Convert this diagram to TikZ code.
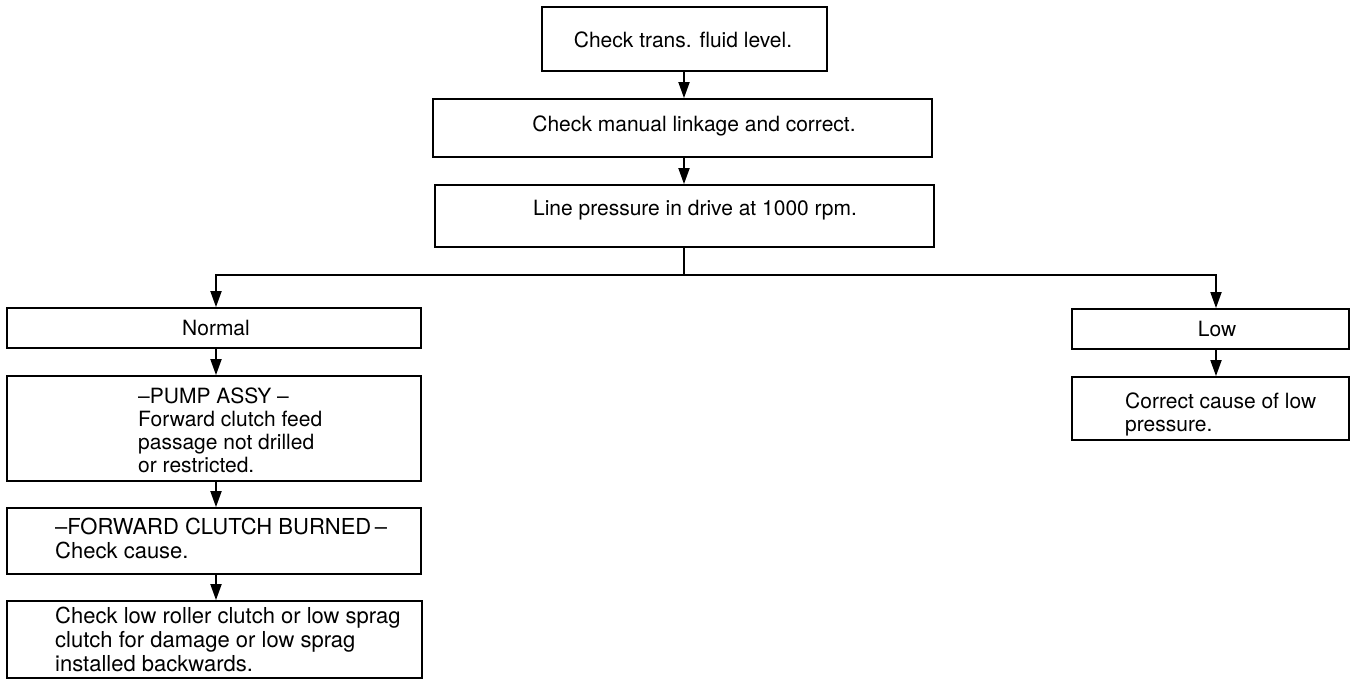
\documentclass[tikz,border=0pt]{standalone}
\usepackage{fontspec}
\setmainfont{TeX Gyre Heros}
\usetikzlibrary{arrows.meta}
\begin{document}
\begin{tikzpicture}[x=1pt,y=-1pt,
  box/.style={draw, line width=1.8pt, inner sep=0pt},
  txt/.style={font=\fontsize{21}{23}\selectfont, inner sep=0pt, align=left},
  bigtxt/.style={txt, font=\fontsize{22}{24}\selectfont},
  flow/.style={line width=1.8pt, -{Triangle[length=16pt,width=11pt]}},
  wire/.style={line width=1.8pt}]
\useasboundingbox (0,0) rectangle (1353,679);

% main column
\node[box, minimum width=285pt, minimum height=64pt] (b1) at (684.5,39) {};
\node[box, minimum width=499pt, minimum height=58pt] (b2) at (682.5,128) {};
\node[box, minimum width=499pt, minimum height=62pt] (b3) at (684.5,216) {};
\node[txt] (t1) at (683,40) {Check trans. fluid level.};
\node[txt] (t2) at (694,126) {Check manual linkage and correct.};
\node[txt] (t3) at (695,210) {Line pressure in drive at 1000 rpm.};

% left branch
\node[box, minimum width=414pt, minimum height=40pt] (normal) at (214,328) {};
\node[box, minimum width=414pt, minimum height=105pt] (pump) at (214,428.5) {};
\node[box, minimum width=414pt, minimum height=66pt] (fc) at (214,541) {};
\node[box, minimum width=415pt, minimum height=77pt] (chk) at (214.5,639.5) {};
\node[txt] (tn) at (216,328) {Normal};
\node[txt, anchor=north west] (tp) at (138,388) {--PUMP ASSY --\\Forward clutch feed\\passage not drilled\\or restricted.};
\node[bigtxt, anchor=north west] (tf) at (55,518) {--FORWARD CLUTCH BURNED\,--\\Check cause.};
\node[bigtxt, anchor=north west] (tc) at (55,607) {Check low roller clutch or low sprag\\clutch for damage or low sprag\\installed backwards.};

% right branch
\node[box, minimum width=277pt, minimum height=40pt] (low) at (1210.5,329) {};
\node[box, minimum width=277pt, minimum height=63pt] (corr) at (1210.5,408.5) {};
\node[txt] (tl) at (1217,329) {Low};
\node[txt, anchor=north west] (tcr) at (1125,393) {Correct cause of low\\pressure.};

% connectors
\coordinate (j) at (684,275);
\coordinate (jl) at (216,275);
\coordinate (jr) at (1216,275);
\draw[flow] (b1.south -| j) -- (b2.north -| j);
\draw[flow] (b2.south -| j) -- (b3.north -| j);
\draw[wire] (b3.south -| j) -- (j);
\draw[flow] (j) -- (jl) -- (jl |- normal.north);
\draw[flow] (j) -- (jr) -- (jr |- low.north);
\draw[flow] (jl |- normal.south) -- (jl |- pump.north);
\draw[flow] (jl |- pump.south) -- (jl |- fc.north);
\draw[flow] (jl |- fc.south) -- (jl |- chk.north);
\draw[flow] (jr |- low.south) -- (jr |- corr.north);
\end{tikzpicture}
\end{document}
